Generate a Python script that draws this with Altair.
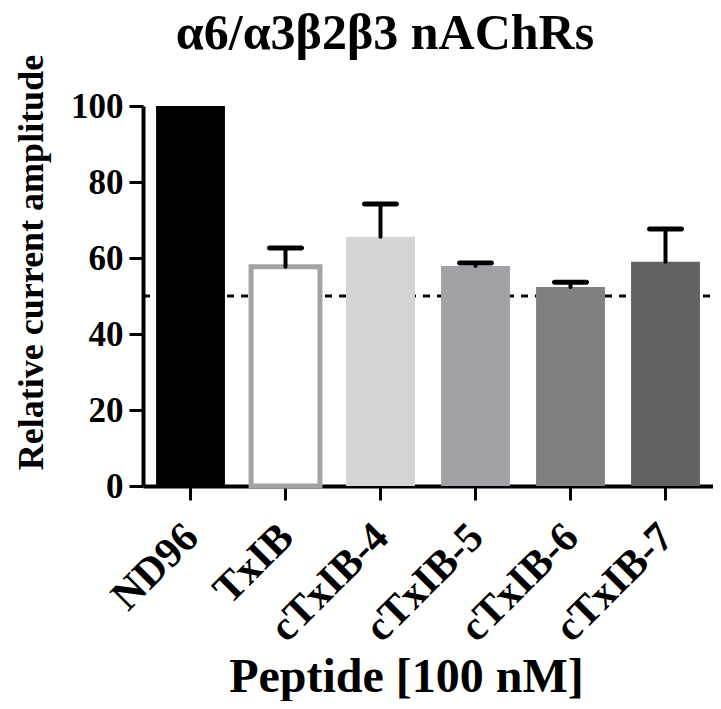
import altair as alt
import pandas as pd

categories = ["ND96", "TxIB", "cTxIB-4", "cTxIB-5", "cTxIB-6", "cTxIB-7"]
means = [100.0, 57.7, 65.6, 57.9, 52.4, 59.0]
errors = [0.0, 4.9, 8.6, 0.8, 1.2, 8.6]
fills = ["#000000", "#ffffff", "#d4d4d4", "#a2a2a6", "#808080", "#626262"]
strokes = ["#000000", "#a3a3a3", "#d4d4d4", "#a2a2a6", "#808080", "#626262"]
yticks = [0, 20, 40, 60, 80, 100]
threshold = [50]

df = pd.DataFrame({
    "cat": categories,
    "mean": means,
    "upper": [m + e for m, e in zip(means, errors)],
})
err_df = df[df["cat"] != "ND96"]
thr_df = pd.DataFrame({"y": threshold})

FONT = "Liberation Serif"
W, H = 570, 380

x_enc = alt.X(
    "cat:N",
    sort=categories,
    scale=alt.Scale(paddingInner=0.275, paddingOuter=0.1375),
    axis=alt.Axis(
        title="Peptide [100 nM]",
        labelAngle=-45,
        labelAlign="right",
        labelBaseline="middle",
        labelFont=FONT,
        labelFontWeight="bold",
        labelFontSize=42,
        labelColor="black",
        labelPadding=30,
        labelOffset=1,
        titleFont=FONT,
        titleFontWeight="bold",
        titleFontSize=48,
        titleColor="black",
        titleX=263,
        titleY=205,
        titleAlign="center",
        titleBaseline="alphabetic",
        domainColor="black",
        domainWidth=4,
        tickColor="black",
        tickWidth=3,
        tickSize=14,
        grid=False,
    ),
)

y_scale = alt.Scale(domain=[0, 100], nice=False)

thr = alt.Chart(thr_df).mark_rule(
    color="black", strokeWidth=3, strokeDash=[7, 7]
).encode(
    y=alt.Y("y:Q", scale=y_scale),
    x=alt.value(0),
    x2=alt.value(W),
)

bars = alt.Chart(df).mark_bar(strokeJoin="miter").encode(
    x=x_enc,
    y=alt.Y(
        "mean:Q",
        scale=y_scale,
        axis=alt.Axis(
            title="Relative current amplitude",
            values=yticks,
            labelFont=FONT,
            labelFontWeight="bold",
            labelFontSize=35,
            labelColor="black",
            labelPadding=6,
            titleFont=FONT,
            titleFontWeight="bold",
            titleFontSize=36,
            titleColor="black",
            titleX=-112,
            titleY=156,
            titleAlign="center",
            titleBaseline="middle",
            domainColor="black",
            domainWidth=4,
            tickColor="black",
            tickWidth=3,
            tickSize=14,
            grid=False,
        ),
    ),
    fill=alt.Fill("cat:N", scale=alt.Scale(domain=categories, range=fills), legend=None),
    stroke=alt.Stroke("cat:N", scale=alt.Scale(domain=categories, range=strokes), legend=None),
    strokeWidth=alt.condition(alt.datum.cat == "TxIB", alt.value(5), alt.value(0)),
)

err_line = alt.Chart(err_df).mark_rule(
    color="black", strokeWidth=4, strokeCap="round"
).encode(
    x=alt.X("cat:N", sort=categories),
    y=alt.Y("mean:Q", scale=y_scale),
    y2="upper:Q",
)

err_cap = alt.Chart(err_df).mark_tick(
    color="black", opacity=1, thickness=5, size=37, orient="horizontal", cornerRadius=2.5
).encode(
    x=alt.X("cat:N", sort=categories),
    y=alt.Y("upper:Q", scale=y_scale),
)

chart = alt.layer(thr, bars, err_line, err_cap).properties(
    width=W,
    height=H,
    background="white",
    autosize=alt.AutoSizeParams(type="none"),
    padding={"left": 135, "top": 98, "right": 0, "bottom": 215},
    title=alt.TitleParams(
        text="α6/α3β2β3 nAChRs",
        font=FONT,
        fontWeight="bold",
        fontSize=50,
        color="black",
        anchor="middle",
        dx=-43,
        dy=5,
        offset=0,
    ),
).configure_view(stroke=None).configure_axis(grid=False)

chart.save("out.html", embed_options={"renderer": "svg", "actions": False})
